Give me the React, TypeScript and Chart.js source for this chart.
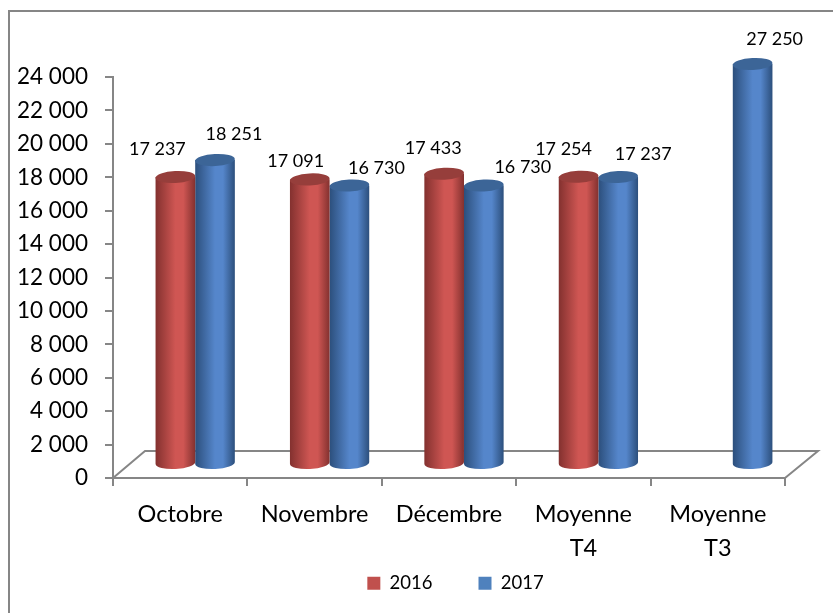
import React, { useEffect, useRef } from "react";
import { Chart, registerables } from "chart.js";

Chart.register(...registerables);

const categories: (string | string[])[] = ["Octobre", "Novembre", "Décembre", ["Moyenne", "T4"], ["Moyenne", "T3"]];
const values2016: (number | null)[] = [17237, 17091, 17433, 17254, null];
const values2017: number[] = [18251, 16730, 16730, 17237, 27250];
const yMax = 24000;
const yStep = 2000;

const labelOffsets2016 = [[-18, -28], [-14, -18], [-11, -26], [-15, -28], [0, 0]];
const labelOffsets2017 = [[19, -26], [27, -17], [39, -18], [25, -23], [22, -25]];

const FONT = "Lato, Carlito, Calibri, sans-serif";
const GRAY = "#868686";
const DEPTH_X = 32;
const DEPTH_Y = -27;
const BAR_LIFT = -13;
const BASE_LIFT = -15;
const BAR_SHIFT = 15;
const RY = 6;
const TILT = -0.05;

const formatThousands = (v: number) => String(v).replace(/\B(?=(\d{3})+$)/g, " ");

const palettes = [
  { edge: "#83312f", mid: "#cf5653", cap: "#963e3b" },
  { edge: "#2c4f7c", mid: "#5586cb", cap: "#3c6597" },
];

const cylinderPlugin = {
  id: "cylinder",
  beforeLayout(chart: any) {
    const legend = chart.legend;
    if (legend && !legend.__fixed) {
      legend.__fixed = true;
      const fit = legend.fit;
      legend.fit = function () {
        fit.call(this);
        this.height = 40;
      };
    }
  },
  beforeDraw(chart: any) {
    const legend = chart.legend;
    // Legend sits off-centre in the reference
    legend.left = 78;
    legend.right = 833;
    legend.top = 528;
    legend.bottom = 613;
  },
  beforeDatasetsDraw(chart: any) {
    const { ctx, chartArea: a } = chart;
    ctx.save();
    ctx.strokeStyle = GRAY;
    ctx.lineWidth = 2;
    ctx.beginPath();
    ctx.moveTo(a.left, a.bottom);
    ctx.lineTo(a.left + DEPTH_X, a.bottom + DEPTH_Y);
    ctx.lineTo(a.right + DEPTH_X + 1, a.bottom + DEPTH_Y);
    ctx.lineTo(a.right, a.bottom);
    ctx.stroke();
    ctx.restore();
  },
  beforeDatasetDraw(chart: any, args: any) {
    const { ctx, chartArea: a } = chart;
    const pal = palettes[args.index];
    const values = chart.data.datasets[args.index].data;
    args.meta.data.forEach((bar: any, j: number) => {
      if (values[j] == null) return;
      const rx = bar.width / 2;
      const cx = bar.x + BAR_SHIFT;
      const top = Math.max(bar.y, a.top) + BAR_LIFT;
      const bottom = a.bottom + BASE_LIFT;
      const l = cx - rx;
      const r = cx + rx;
      const g = ctx.createLinearGradient(l, 0, r, 0);
      g.addColorStop(0, pal.edge);
      g.addColorStop(0.5, pal.mid);
      g.addColorStop(0.7, pal.mid);
      g.addColorStop(1, pal.edge);
      ctx.save();
      ctx.fillStyle = g;
      ctx.beginPath();
      ctx.moveTo(l, top);
      ctx.lineTo(l, bottom);
      ctx.ellipse(cx, bottom, rx, RY, TILT, Math.PI, 0, true);
      ctx.lineTo(r, top);
      ctx.closePath();
      ctx.fill();
      ctx.fillStyle = pal.cap;
      ctx.beginPath();
      ctx.ellipse(cx, top, rx, RY, TILT, 0, Math.PI * 2);
      ctx.fill();
      ctx.restore();
    });
    return false;
  },
  afterDatasetsDraw(chart: any) {
    const { ctx, chartArea: a } = chart;
    ctx.save();
    ctx.font = `18px ${FONT}`;
    ctx.fillStyle = "#000";
    ctx.textAlign = "center";
    ctx.textBaseline = "middle";
    chart.data.datasets.forEach((ds: any, i: number) => {
      const offs = i === 0 ? labelOffsets2016 : labelOffsets2017;
      chart.getDatasetMeta(i).data.forEach((bar: any, j: number) => {
        const v = ds.data[j];
        if (v == null) return;
        const top = Math.max(bar.y, a.top) + BAR_LIFT;
        ctx.fillText(formatThousands(v), bar.x + BAR_SHIFT + offs[j][0], top + offs[j][1]);
      });
    });
    ctx.restore();
  },
  afterDraw(chart: any) {
    const { ctx } = chart;
    ctx.save();
    ctx.strokeStyle = GRAY;
    ctx.lineWidth = 2;
    ctx.beginPath();
    ctx.moveTo(9, 613);
    ctx.lineTo(9, 11);
    ctx.lineTo(833, 11);
    ctx.stroke();
    ctx.restore();
  },
};

export default function App() {
  const ref = useRef<HTMLCanvasElement>(null);
  useEffect(() => {
    const chart = new Chart(ref.current!, {
      type: "bar",
      data: {
        labels: categories as any,
        datasets: [
          { label: "2016", data: values2016, backgroundColor: "#c0504d", categoryPercentage: 0.59, barPercentage: 1 },
          { label: "2017", data: values2017, backgroundColor: "#4f81bd", categoryPercentage: 0.59, barPercentage: 1 },
        ],
      },
      options: {
        responsive: false,
        animation: false,
        layout: { padding: { left: 0, right: 48, top: 77, bottom: 0 } },
        scales: {
          x: {
            grid: { offset: true, drawOnChartArea: false, color: GRAY, lineWidth: 2, tickLength: 8 },
            border: { color: GRAY, width: 2 },
            ticks: {
              color: "#000",
              padding: 11,
              maxRotation: 0,
              autoSkip: false,
              font: { family: FONT, size: 23.5, lineHeight: 1.45 },
            },
            afterFit: (s: any) => { s.height = 95; },
          },
          y: {
            min: 0,
            max: yMax,
            grid: { drawOnChartArea: false, color: GRAY, lineWidth: 2, tickLength: 8 },
            border: { color: GRAY, width: 2 },
            ticks: {
              color: "#000",
              stepSize: yStep,
              padding: 17,
              font: { family: FONT, size: 22.5 },
              callback: (v: any) => formatThousands(Number(v)),
            },
            afterFit: (s: any) => { s.width = 113; },
          },
        },
        plugins: {
          title: { display: false },
          tooltip: { enabled: false },
          legend: {
            position: "bottom",
            labels: {
              color: "#000",
              boxWidth: 13,
              boxHeight: 13,
              padding: 46,
              font: { family: FONT, size: 18.5 },
            },
          },
        },
      },
      plugins: [cylinderPlugin],
    } as any);
    return () => chart.destroy();
  }, []);
  return (
    <canvas
      ref={ref}
      width={833}
      height={613}
      style={{ position: "fixed", left: 0, top: 0, width: 833, height: 613, display: "block", background: "#fff" }}
    />
  );
}
